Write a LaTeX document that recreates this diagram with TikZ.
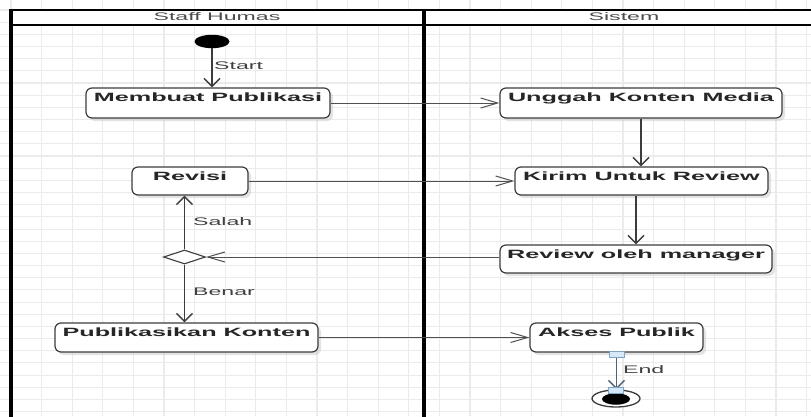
\documentclass[tikz,border=0pt]{standalone}
\usepackage{fontspec}
\usetikzlibrary{arrows.meta,shapes.geometric,shadows}
\newfontfamily\uifont[FakeStretch=2.1]{Liberation Sans}
\definecolor{gridc}{HTML}{EBEBEB}
\definecolor{linec}{HTML}{3C3C3C}
\definecolor{endc}{HTML}{4E6378}
\definecolor{handlefill}{HTML}{D4E8F7}
\definecolor{handledraw}{HTML}{7FA3C4}

\begin{document}
\begin{tikzpicture}[x=1pt,y=-1pt,
  act/.style={draw=linec, line width=1.2pt, rounded corners=6pt, fill=white,
    inner xsep=0pt, inner ysep=0pt, text height=13pt, text=black!85,
    font=\uifont\bfseries\fontsize{12pt}{14pt}\selectfont,
    drop shadow={shadow xshift=3pt, shadow yshift=-3pt, fill=black!20, opacity=.55}},
  lbl/.style={inner sep=0pt, anchor=west, text height=8pt, text depth=0pt,
    text=black!75, font=\uifont\fontsize{11pt}{13pt}\selectfont},
  hdr/.style={inner sep=0pt, text height=8pt, text depth=0pt,
    text=black!70, font=\uifont\fontsize{11pt}{13pt}\selectfont},
  vconn/.style={draw=linec, line width=1.4pt},
  hconn/.style={draw=linec!90, line width=1pt},
  harr/.style={-{Straight Barb[length=17pt,width=10pt]}},
  varr/.style={-{Straight Barb[length=8pt,width=16pt]}},
  handle/.style={draw=handledraw, fill=handlefill, line width=0.8pt,
    minimum width=15pt, minimum height=6pt, inner sep=0pt}]

\useasboundingbox (0,0) rectangle (811,416);
\clip (0,0) rectangle (811,416);

% background grid
\fill[white] (0,0) rectangle (811,416);
\foreach \i in {0,...,27} \draw[gridc, line width=1.1pt] ({11+30.6*(\i-1)},0) -- ++(0,416);
\foreach \j in {0,...,35} \draw[gridc, line width=1.1pt] (0,{10+12.17*(\j-1)}) -- ++(811,0);

% swimlane frame and headers
\fill[white] (10.5,9.5) rectangle (830,24.7);
\draw[line width=2pt] (10.5,9.5) -- (830,9.5);
\draw[line width=2pt] (10.5,24.7) -- (830,24.7);
\draw[line width=4pt] (10.5,8.5) -- (10.5,420);
\draw[line width=3.5pt] (424,8.5) -- (424,420);
\node[hdr] (laneA) at (217,16.7) {Staff Humas};
\node[hdr] (laneB) at (624,16.7) {Sistem};

% initial and final states
\node[ellipse, fill=black, minimum width=35pt, minimum height=13.4pt, inner sep=0pt] (start) at (212,41.5) {};
\node[ellipse, draw=linec, line width=1.3pt, fill=white, minimum width=48pt, minimum height=17pt, inner sep=0pt] (endo) at (616,398.5) {};
\node[ellipse, fill=black, minimum width=28pt, minimum height=11.5pt, inner sep=0pt] (endi) at (616,399) {};

% activities
\node[act, minimum width=244pt, minimum height=30pt, text depth=17pt] (buat) at (208,103) {Membuat Publikasi};
\node[act, minimum width=282pt, minimum height=30pt, text depth=17pt] (unggah) at (641,103) {Unggah Konten Media};
\node[act, minimum width=116pt, minimum height=28pt, text depth=15pt] (revisi) at (190,181) {Revisi};
\node[act, minimum width=253pt, minimum height=28pt, text depth=15pt] (kirim) at (641.5,181) {Kirim Untuk Review};
\node[act, minimum width=272pt, minimum height=28pt, text depth=15pt] (review) at (636,259) {Review oleh manager};
\node[act, minimum width=263pt, minimum height=29pt, text depth=16pt] (publik) at (186.5,337.5) {Publikasikan Konten};
\node[act, minimum width=173pt, minimum height=29pt, text depth=16pt] (akses) at (616.5,337.5) {Akses Publik};

% decision
\node[diamond, draw=linec, line width=1.1pt, fill=white, aspect=3, minimum width=42pt, minimum height=14pt, inner sep=0pt] (dec) at (184.5,257) {};

% flows
\draw[vconn,varr] (start) -- (start |- buat.north);
\draw[hconn,harr] (buat.east) -- (buat.east -| unggah.west);
\draw[vconn,varr] (unggah.south) -- (unggah.south |- kirim.north);
\draw[hconn,harr] (revisi.east) -- (revisi.east -| kirim.west);
\draw[vconn,varr] (kirim.south -| review.north) -- (review.north);
\draw[hconn,harr] (review.west |- dec.east) -- (dec.east);
\draw[vconn,varr] (dec.north) -- (dec.north |- revisi.south);
\draw[vconn,varr] (dec.south) -- (dec.south |- publik.north);
\draw[hconn,harr] (publik.east) -- (publik.east -| akses.west);
\draw[draw=endc, line width=1.4pt, varr] (akses.south) -- (akses.south |- endo.north);

% selection handles on the final flow
\node[handle] (hA) at (616.5,354.5) {};
\node[handle] (hB) at (616,390) {};

% flow labels
\node[lbl] (lStart) at (214,65.5) {Start};
\node[lbl] (lSalah) at (193,221.5) {Salah};
\node[lbl] (lBenar) at (193,291.5) {Benar};
\node[lbl] (lEnd) at (623,369) {End};
\end{tikzpicture}
\end{document}
